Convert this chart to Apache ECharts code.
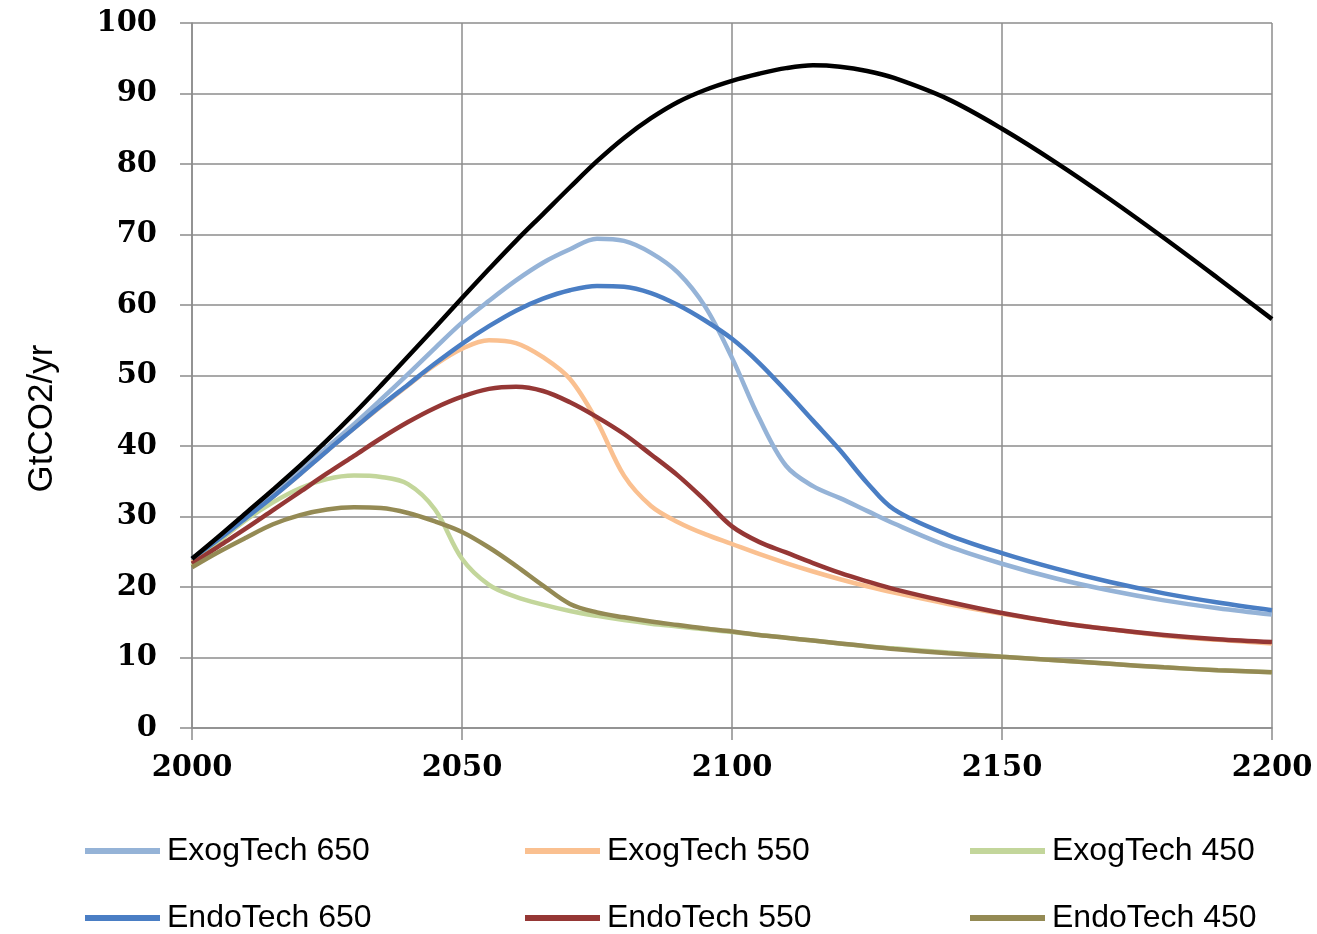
<!DOCTYPE html>
<html>
<head>
<meta charset="utf-8">
<title>GtCO2/yr</title>
<script src="https://cdn.jsdelivr.net/npm/echarts@6/dist/echarts.min.js"></script>
<style>
  html, body { margin: 0; padding: 0; background: #ffffff; }
  #chart { width: 1317px; height: 934px; }
</style>
</head>
<body>
<div id="chart"></div>
<script>
// Sample years shared by every series
const years = [2000, 2005, 2010, 2015, 2020, 2025, 2030, 2035, 2040, 2045, 2050, 2055, 2060, 2065, 2070,
  2075, 2080, 2085, 2090, 2095, 2100, 2105, 2110, 2115, 2120, 2125, 2130, 2140, 2150, 2160, 2170, 2180, 2190, 2200];

// Emissions, GtCO2/yr
const baseline = [24, 27.2, 30.5, 33.8, 37.2, 40.8, 44.6, 48.6, 52.7, 56.8, 61, 65.1, 69.1, 72.9, 76.7,
  80.4, 83.7, 86.5, 88.8, 90.5, 91.8, 92.8, 93.6, 94, 93.8, 93.2, 92.2, 89.2, 85, 80.2, 75, 69.5, 63.8, 58];
const exog650 = [24, 27, 30.2, 33.3, 36.5, 39.8, 43.1, 46.6, 50.2, 53.9, 57.5, 60.6, 63.5, 66, 67.9,
  69.4, 69.1, 67.4, 64.6, 59.8, 52.5, 44, 37.2, 34.3, 32.6, 30.8, 29, 25.8, 23.3, 21.2, 19.5, 18.1, 17, 16.1];
const exog550 = [23.5, 26.5, 29.6, 32.8, 36, 39.3, 42.5, 45.6, 48.6, 51.5, 53.8, 55, 54.6, 52.6, 49.5,
  43.5, 35.8, 31.5, 29.2, 27.5, 26.1, 24.7, 23.4, 22.2, 21.1, 20.1, 19.2, 17.6, 16.2, 15, 14, 13.1, 12.5, 12];
const exog450 = [23, 26.5, 29.5, 32, 34, 35.3, 35.8, 35.6, 34.6, 31, 24, 20.3, 18.6, 17.5, 16.6,
  15.9, 15.3, 14.8, 14.4, 14, 13.6, 13.2, 12.8, 12.4, 12, 11.6, 11.3, 10.7, 10.1, 9.6, 9.1, 8.6, 8.2, 7.9];
const endo650 = [24, 26.8, 29.8, 32.8, 36, 39.3, 42.5, 45.7, 48.7, 51.7, 54.5, 57, 59.2, 60.9, 62.1,
  62.7, 62.6, 61.7, 60, 57.8, 55.2, 51.8, 47.8, 43.6, 39.4, 34.8, 31, 27.4, 24.8, 22.6, 20.7, 19.1, 17.8, 16.7];
const endo550 = [23.3, 25.8, 28.3, 30.9, 33.5, 36.1, 38.6, 41.1, 43.4, 45.4, 47, 48.1, 48.4, 47.8, 46.2,
  44.1, 41.7, 38.8, 35.8, 32.3, 28.6, 26.4, 24.9, 23.4, 22, 20.8, 19.7, 17.9, 16.3, 15, 14, 13.2, 12.6, 12.2];
const endo450 = [22.8, 25, 27, 28.9, 30.2, 31, 31.3, 31.2, 30.5, 29.3, 27.8, 25.6, 23, 20.2, 17.6,
  16.4, 15.7, 15.1, 14.6, 14.1, 13.7, 13.2, 12.8, 12.4, 12, 11.6, 11.2, 10.6, 10.1, 9.6, 9.1, 8.6, 8.2, 7.9];

const xTicks = { min: 2000, max: 2200, step: 50 };
const yTicks = { min: 0, max: 100, step: 10 };

const seriesDefs = [
  { name: 'ExogTech 650', values: exog650, color: '#95B3D7' },
  { name: 'ExogTech 550', values: exog550, color: '#FAC090' },
  { name: 'ExogTech 450', values: exog450, color: '#C3D69B' },
  { name: 'EndoTech 650', values: endo650, color: '#4A7EC4' },
  { name: 'EndoTech 550', values: endo550, color: '#953735' },
  { name: 'EndoTech 450', values: endo450, color: '#948A54' },
  { name: 'Baseline', values: baseline, color: '#000000' }
];

const pairs = vals => years.map((y, i) => [y, vals[i]]);

const gridColor = '#8c8c8c';
const labelFont = { fontFamily: '"DejaVu Serif", serif', fontWeight: 'bold', fontSize: 29, color: '#000' };

// One legend block per entry, laid out as a 3 x 2 table
const legendSlots = [
  { name: 'ExogTech 650', left: 85, top: 835 },
  { name: 'ExogTech 550', left: 525, top: 835 },
  { name: 'ExogTech 450', left: 970, top: 835 },
  { name: 'EndoTech 650', left: 85, top: 902 },
  { name: 'EndoTech 550', left: 525, top: 902 },
  { name: 'EndoTech 450', left: 970, top: 902 }
];

const chart = echarts.init(document.getElementById('chart'), null, { renderer: 'canvas' });

chart.setOption({
  backgroundColor: '#ffffff',
  animation: false,
  grid: { left: 192, right: 45, top: 23, bottom: 206, containLabel: false },
  xAxis: {
    type: 'value',
    min: xTicks.min, max: xTicks.max, interval: xTicks.step,
    axisLine: { show: true, onZero: false, lineStyle: { color: gridColor, width: 1.5 } },
    axisTick: { show: true, length: 12, lineStyle: { color: gridColor, width: 1.5 } },
    splitLine: { show: true, lineStyle: { color: gridColor, width: 1.5 } },
    axisLabel: Object.assign({ margin: 26, formatter: v => String(v) }, labelFont)
  },
  yAxis: {
    type: 'value',
    min: yTicks.min, max: yTicks.max, interval: yTicks.step,
    name: 'GtCO2/yr',
    nameLocation: 'middle',
    nameGap: 132,
    nameRotate: 90,
    nameTextStyle: {
      fontFamily: '"Liberation Sans", Arial, sans-serif', fontSize: 35, color: '#000',
      padding: [0, 86, 0, 0]
    },
    axisLine: { show: true, lineStyle: { color: gridColor, width: 1.5 } },
    axisTick: { show: true, length: 12, lineStyle: { color: gridColor, width: 1.5 } },
    splitLine: { show: true, lineStyle: { color: gridColor, width: 1.5 } },
    axisLabel: Object.assign({ margin: 35 }, labelFont)
  },
  legend: legendSlots.map(s => ({
    data: [s.name],
    left: s.left,
    top: s.top,
    padding: 0,
    icon: 'rect',
    itemWidth: 75,
    itemHeight: 6,
    itemGap: 0,
    selectedMode: false,
    textStyle: { fontFamily: '"Liberation Sans", Arial, sans-serif', fontSize: 32, color: '#000', padding: [0, 0, 0, 2] }
  })),
  series: seriesDefs.map(d => ({
    name: d.name,
    type: 'line',
    data: pairs(d.values),
    smooth: 0.35,
    showSymbol: false,
    symbol: 'none',
    color: d.color,
    lineStyle: { color: d.color, width: 4.5 },
    emphasis: { disabled: true }
  }))
});
</script>
</body>
</html>
